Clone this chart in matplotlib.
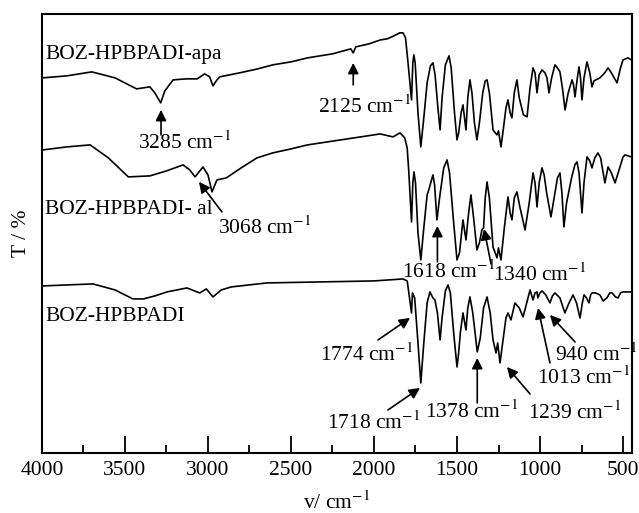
import matplotlib
matplotlib.use("Agg")
import matplotlib.pyplot as plt
from matplotlib.ticker import MultipleLocator

plt.rcParams['font.family'] = ['Liberation Serif', 'DejaVu Serif']
plt.rcParams['mathtext.fontset'] = 'stix'

# wavenumber (cm-1) and transmittance (arbitrary, stacked)
wn_apa = [3998, 3850, 3700, 3560, 3430, 3350, 3320, 3285, 3260, 3210, 3130, 3065,
          3020, 2990, 2970, 2950, 2930, 2810, 2700, 2610, 2500, 2400, 2250, 2140,
          2125, 2110, 2030, 1960, 1920, 1880, 1845, 1825, 1810, 1795, 1774, 1766,
          1760, 1752, 1735, 1718, 1700, 1680, 1660, 1645, 1632, 1615, 1602, 1590,
          1570, 1548, 1535, 1515, 1500, 1490, 1475, 1464, 1446, 1435, 1422, 1410,
          1395, 1380, 1365, 1345, 1330, 1319, 1305, 1283, 1270, 1259, 1250, 1235,
          1220, 1205, 1193, 1180, 1169, 1155, 1139, 1125, 1100, 1078, 1060, 1042,
          1030, 1018, 1005, 988, 970, 958, 946, 930, 910, 895, 880, 865, 849, 830,
          807, 798, 789, 775, 765, 756, 747, 735, 717, 700, 687, 675, 639, 610,
          590, 570, 536, 515, 500, 470, 450]
t_apa = [375, 377, 381, 375, 364, 366, 360, 350, 362, 373, 374, 374,
         379, 376, 367, 372, 376, 380, 384, 388, 391, 395, 399, 404,
         400, 406, 409, 413, 414, 417, 420, 420, 415, 390, 353, 390,
         398, 390, 340, 306, 335, 370, 387, 390, 378, 345, 323, 355,
         388, 397, 385, 340, 313, 320, 340, 348, 323, 355, 373, 360,
         330, 313, 330, 360, 372, 373, 360, 323, 320, 318, 322, 306,
         325, 345, 353, 340, 335, 360, 373, 355, 338, 336, 365, 385,
         380, 360, 378, 383, 380, 375, 360, 375, 388, 385, 381, 365, 343, 360,
         373, 368, 356, 375, 386, 375, 353, 375, 391, 380, 366, 372, 375, 380,
         385, 380, 370, 385, 393, 395, 393]

wn_al = [3994, 3850, 3710, 3600, 3480, 3350, 3250, 3150, 3110, 3078, 3030, 3000,
         2976, 2946, 2890, 2800, 2705, 2610, 2500, 2400, 2200, 2000, 1964, 1886,
         1843, 1815, 1800, 1790, 1774, 1766, 1759, 1750, 1735, 1718, 1700, 1680,
         1670, 1645, 1635, 1621, 1605, 1580, 1560, 1545, 1520, 1500, 1485, 1464,
         1446, 1430, 1416, 1400, 1380, 1365, 1350, 1340, 1330, 1319, 1305, 1283,
         1259, 1250, 1235, 1215, 1193, 1180, 1169, 1155, 1139, 1120, 1090, 1065,
         1042, 1030, 1018, 1005, 988, 975, 960, 934, 910, 895, 880, 868, 856, 840,
         810, 790, 777, 765, 747, 735, 717, 700, 687, 670, 651, 635, 609, 590,
         570, 548, 520, 500, 488, 450]
t_al = [303, 306, 308, 295, 276, 277, 282, 288, 283, 276, 286, 278,
        261, 273, 275, 285, 295, 300, 304, 308, 313, 318, 319, 316,
        320, 315, 305, 280, 231, 270, 281, 270, 220, 193, 225, 258,
        263, 278, 268, 233, 255, 285, 293, 280, 230, 193, 200, 233,
        213, 240, 258, 235, 203, 210, 223, 225, 255, 271, 255, 206,
        195, 205, 193, 225, 256, 240, 233, 255, 261, 245, 223, 250,
        280, 270, 246, 270, 285, 278, 260, 236, 260, 275, 280, 260, 226, 250,
        275, 288, 291, 280, 240, 270, 296, 292, 285, 295, 300, 295, 270, 286,
        280, 270, 285, 296, 298, 296]

wn_base = [3994, 3850, 3693, 3560, 3452, 3390, 3320, 3247, 3127, 3050, 3010, 2970,
           2920, 2860, 2645, 2325, 2000, 1825, 1800, 1790, 1774, 1768, 1755, 1735,
           1718, 1700, 1680, 1663, 1645, 1633, 1618, 1602, 1590, 1570, 1554, 1540,
           1520, 1500, 1490, 1480, 1464, 1446, 1435, 1422, 1405, 1378, 1360, 1340,
           1319, 1300, 1283, 1265, 1255, 1241, 1225, 1205, 1193, 1175, 1151, 1125,
           1102, 1080, 1060, 1042, 1030, 1018, 1013, 1000, 988, 965, 940, 925, 910,
           880, 850, 825, 801, 780, 759, 745, 735, 720, 705, 695, 687, 665, 639,
           620, 597, 580, 566, 545, 530, 515, 500, 450]
t_base = [167, 168, 169, 163, 154, 154, 157, 161, 165, 160, 164, 156,
          163, 166, 170, 171, 172, 174, 172, 160, 140, 160, 155, 110,
          70, 110, 150, 161, 155, 153, 140, 113, 135, 162, 168, 160,
          120, 86, 100, 120, 140, 123, 145, 156, 140, 101, 115, 145,
          156, 140, 113, 100, 110, 90, 110, 135, 140, 133, 150, 145,
          136, 150, 163, 153, 160, 161, 155, 160, 162, 158, 150, 157, 160,
          155, 140, 150, 158, 150, 135, 150, 158, 155, 150, 158, 160, 160, 158,
          152, 155, 160, 160, 156, 155, 160, 161, 161]

names = ['BOZ-HPBPADI-apa', 'BOZ-HPBPADI- al', 'BOZ-HPBPADI']
name_pos = [(3982, 398), (3982, 243), (3982, 136)]

# band labels: text, text position, arrow tail, arrow tip
bands = [
    ('3285', (3422, 310), (3283, 318), (3283, 343)),
    ('2125', (2337, 346), (2125, 368), (2125, 390)),
    ('3068', (2940, 225), (2916, 241), (3054, 271)),
    ('1618', (1831, 181), (1618, 191), (1618, 227)),
    ('1340', (1283, 178), (1295, 189), (1337, 224)),
    ('1774', (2325, 98), (1976, 113), (1783, 135)),
    ('1718', (2283, 30), (1916, 43), (1723, 65)),
    ('1378', (1693, 41), (1378, 50), (1378, 95)),
    ('1239', (1072, 40), (1060, 59), (1199, 86)),
    ('1013', (1018, 75), (940, 90), (1012, 145)),
    ('940', (910, 98), (789, 111), (940, 138)),
]

fig = plt.figure(figsize=(6.39, 5.13), dpi=100)
ax = fig.add_axes([0.0657, 0.117, 0.9233, 0.856])

for wn, t in [(wn_apa, t_apa), (wn_al, t_al), (wn_base, t_base)]:
    ax.plot(wn, t, color='black', lw=1.2)

fs = 15.5
for name, (x, y) in zip(names, name_pos):
    ax.text(x, y, name, fontsize=fs, ha='left', va='center')

for lab, tp, tail, tip in bands:
    ax.text(tp[0], tp[1], lab + ' cm$^{-1}$', fontsize=fs, ha='left', va='center')
    ax.annotate('', xy=tip, xytext=tail,
                arrowprops=dict(arrowstyle='-|>', color='black', lw=1.2,
                                mutation_scale=16, shrinkA=0, shrinkB=0))

ax.set_xlim(4000, 446)
ax.set_ylim(0, 439)
ax.xaxis.set_major_locator(MultipleLocator(500))
ax.xaxis.set_minor_locator(MultipleLocator(250))
ax.tick_params(axis='x', which='major', direction='in', length=12, width=1.3,
               labelsize=fs, top=False, pad=6)
ax.tick_params(axis='x', which='minor', direction='in', length=6, width=1.3, top=False)
ax.set_yticks([])
for s in ax.spines.values():
    s.set_linewidth(1.5)

ax.set_xlabel('v/ cm$^{-1}$', fontsize=fs, labelpad=8)
ax.set_ylabel('T / %', fontsize=fs, labelpad=8)

fig.savefig('out.png', dpi=100)
